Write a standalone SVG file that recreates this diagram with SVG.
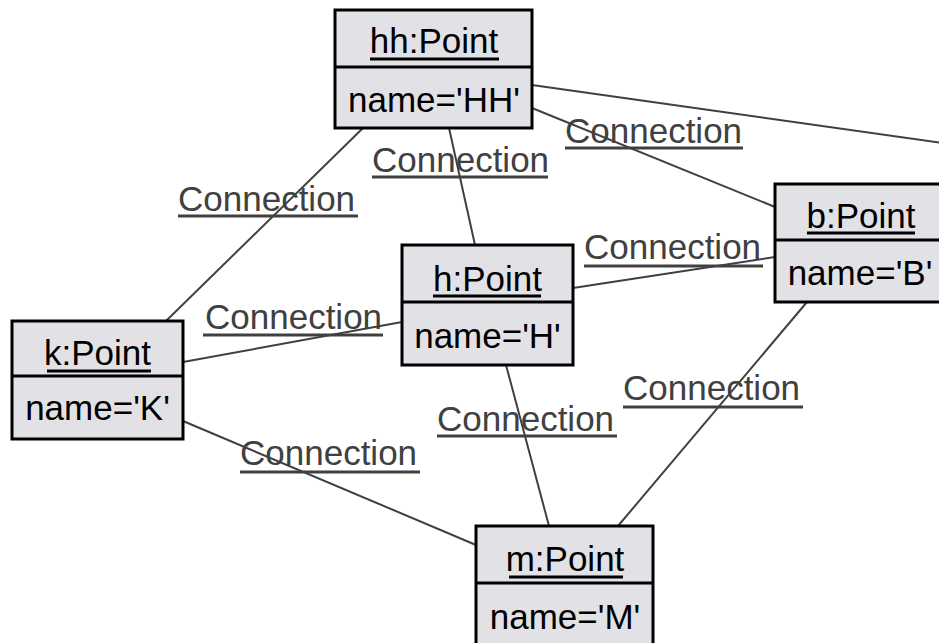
<svg xmlns="http://www.w3.org/2000/svg" width="939" height="643" viewBox="0 0 939 643">
<style>
.bg{fill:#ffffff}
.conn line{stroke:#404040;stroke-width:2;fill:none}
.box{fill:#e2e2e6;stroke:#000;stroke-width:3}
.div{stroke:#000;stroke-width:3}
.t{font-family:"Liberation Sans",Arial,sans-serif;font-size:35px;fill:#000;text-anchor:middle}
.ul{stroke:#000;stroke-width:3}
.lbl{font-family:"Liberation Sans",Arial,sans-serif;font-size:35px;fill:#404040}
.lul{stroke:#404040;stroke-width:3}
</style>
<rect class="bg" x="0" y="0" width="939" height="643"/>
<g id="connectors" class="conn">
  <line x1="363" y1="128" x2="166" y2="321"/>
  <line x1="449" y1="128" x2="475" y2="245"/>
  <line x1="532" y1="108" x2="775" y2="207"/>
  <line x1="532" y1="85" x2="1000" y2="151"/>
  <line x1="573" y1="288" x2="775" y2="257"/>
  <line x1="183" y1="362" x2="402" y2="322"/>
  <line x1="183" y1="421" x2="476" y2="545"/>
  <line x1="506" y1="365" x2="549" y2="526"/>
  <line x1="807" y1="302" x2="618" y2="526"/>
</g>
<g id="labels">
  <g id="lbl-hh-k"><text class="lbl" x="178" y="211">Connection</text><line class="lul" x1="178" y1="216" x2="358" y2="216"/></g>
  <g id="lbl-hh-h"><text class="lbl" x="372" y="172">Connection</text><line class="lul" x1="372" y1="177" x2="548" y2="177"/></g>
  <g id="lbl-k-h"><text class="lbl" x="205" y="329">Connection</text><line class="lul" x1="203" y1="335" x2="383" y2="335"/></g>
  <g id="lbl-k-m"><text class="lbl" x="240" y="465">Connection</text><line class="lul" x1="240" y1="472" x2="420" y2="472"/></g>
  <g id="lbl-h-m"><text class="lbl" x="437" y="431">Connection</text><line class="lul" x1="437" y1="436" x2="617" y2="436"/></g>
  <g id="lbl-h-b"><text class="lbl" x="584" y="259">Connection</text><line class="lul" x1="584" y1="266" x2="763" y2="266"/></g>
  <g id="lbl-b-m"><text class="lbl" x="623" y="400">Connection</text><line class="lul" x1="623" y1="407" x2="803" y2="407"/></g>
  <g id="lbl-hh-b"><text class="lbl" x="565" y="143">Connection</text><line class="lul" x1="565" y1="148" x2="743" y2="148"/></g>
</g>
<g id="node-hh">
  <rect class="box" x="335" y="10" width="197" height="118"/>
  <line class="div" x1="335" y1="67" x2="532" y2="67"/>
  <text class="t" x="434" y="53">hh:Point</text>
  <line class="ul" x1="370" y1="59" x2="499" y2="59"/>
  <text class="t" x="434" y="112">name='HH'</text>
</g>
<g id="node-b">
  <rect class="box" x="775" y="184" width="172" height="118"/>
  <line class="div" x1="775" y1="240" x2="947" y2="240"/>
  <text class="t" x="861" y="228">b:Point</text>
  <line class="ul" x1="807" y1="233" x2="915" y2="233"/>
  <text class="t" x="860" y="285">name='B'</text>
</g>
<g id="node-k">
  <rect class="box" x="12" y="321" width="171" height="118"/>
  <line class="div" x1="12" y1="376" x2="183" y2="376"/>
  <text class="t" x="97.5" y="365">k:Point</text>
  <line class="ul" x1="47" y1="371" x2="151" y2="371"/>
  <text class="t" x="97.5" y="420">name='K'</text>
</g>
<g id="node-h">
  <rect class="box" x="402" y="245" width="171" height="120"/>
  <line class="div" x1="402" y1="302" x2="573" y2="302"/>
  <text class="t" x="487.5" y="291">h:Point</text>
  <line class="ul" x1="433" y1="296" x2="541" y2="296"/>
  <text class="t" x="487.5" y="348">name='H'</text>
</g>
<g id="node-m">
  <rect class="box" x="476" y="526" width="177" height="130"/>
  <line class="div" x1="476" y1="583" x2="653" y2="583"/>
  <text class="t" x="565" y="571">m:Point</text>
  <line class="ul" x1="509" y1="577" x2="623" y2="577"/>
  <text class="t" x="565" y="629">name='M'</text>
</g>
</svg>
